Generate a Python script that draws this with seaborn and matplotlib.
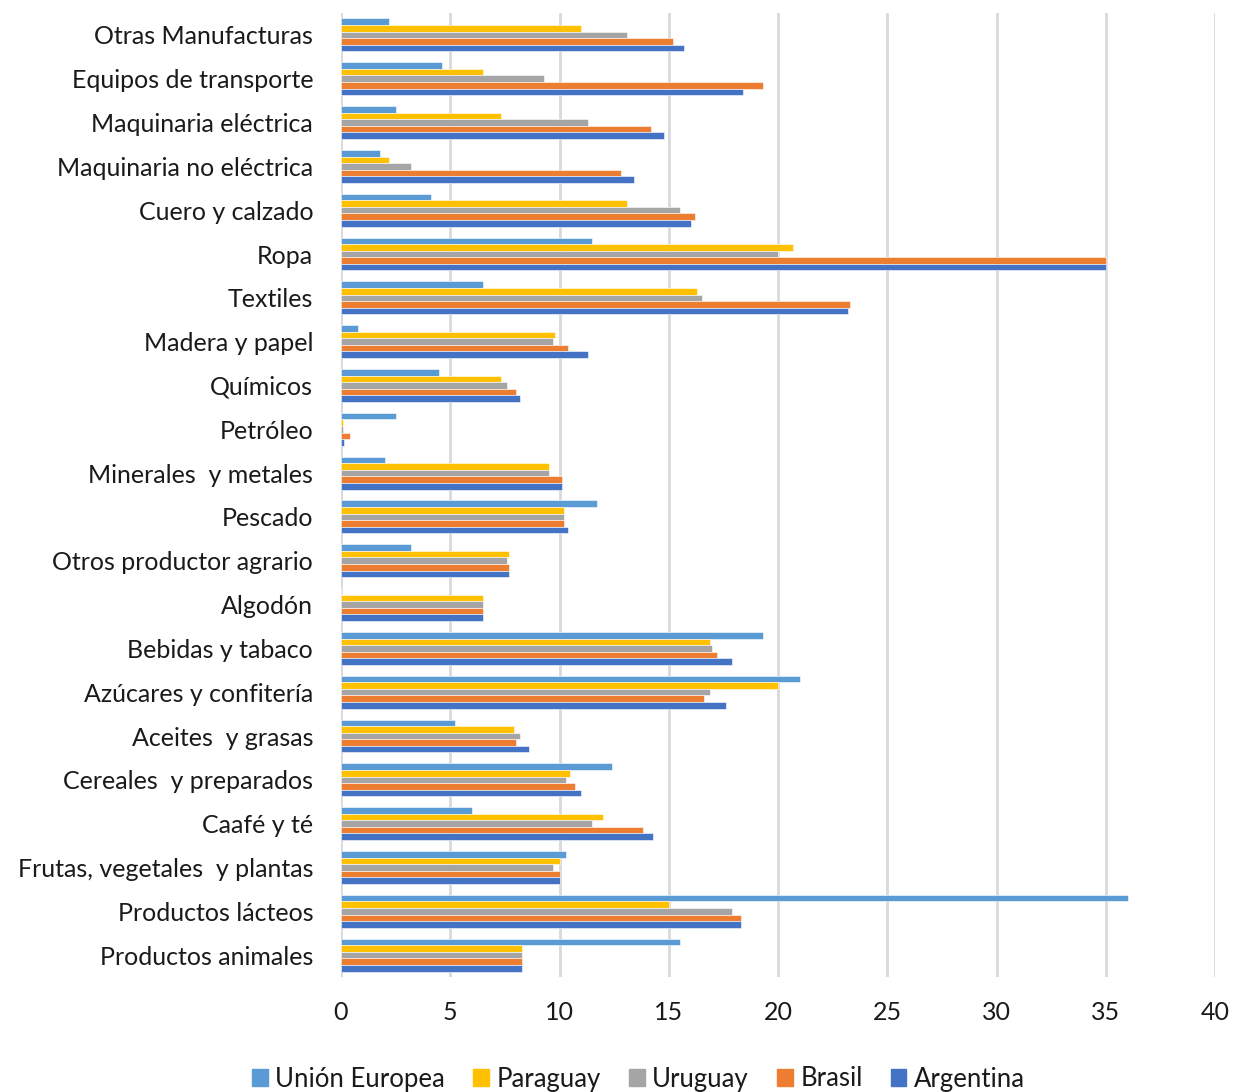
import matplotlib
matplotlib.use("Agg")
import matplotlib.pyplot as plt
import seaborn as sns
import pandas as pd

categories = [
    "Otras Manufacturas", "Equipos de transporte", "Maquinaria eléctrica",
    "Maquinaria no eléctrica", "Cuero y calzado", "Ropa", "Textiles",
    "Madera y papel", "Químicos", "Petróleo", "Minerales  y metales",
    "Pescado", "Otros productor agrario", "Algodón", "Bebidas y tabaco",
    "Azúcares y confitería", "Aceites  y grasas", "Cereales  y preparados",
    "Caafé y té", "Frutas, vegetales  y plantas", "Productos lácteos",
    "Productos animales",
]

union_europea = [2.2, 4.6, 2.5, 1.8, 4.1, 11.5, 6.5, 0.8, 4.5, 2.5, 2.0, 11.7,
                 3.2, 0.0, 19.3, 21.0, 5.2, 12.4, 6.0, 10.3, 36.0, 15.5]
paraguay = [11.0, 6.5, 7.3, 2.2, 13.1, 20.7, 16.3, 9.8, 7.3, 0.1, 9.5, 10.2,
            7.7, 6.5, 16.9, 20.0, 7.9, 10.5, 12.0, 10.0, 15.0, 8.3]
uruguay = [13.1, 9.3, 11.3, 3.2, 15.5, 20.0, 16.5, 9.7, 7.6, 0.1, 9.5, 10.2,
           7.6, 6.5, 17.0, 16.9, 8.2, 10.3, 11.5, 9.7, 17.9, 8.3]
brasil = [15.2, 19.3, 14.2, 12.8, 16.2, 35.0, 23.3, 10.4, 8.0, 0.4, 10.1, 10.2,
          7.7, 6.5, 17.2, 16.6, 8.0, 10.7, 13.8, 10.0, 18.3, 8.3]
argentina = [15.7, 18.4, 14.8, 13.4, 16.0, 35.0, 23.2, 11.3, 8.2, 0.15, 10.1, 10.4,
             7.7, 6.5, 17.9, 17.6, 8.6, 11.0, 14.3, 10.0, 18.3, 8.3]

series_names = ["Unión Europea", "Paraguay", "Uruguay", "Brasil", "Argentina"]
series_values = [union_europea, paraguay, uruguay, brasil, argentina]
palette = ["#5B9BD5", "#FFC000", "#A5A5A5", "#ED7D31", "#4472C4"]
x_ticks = [0, 5, 10, 15, 20, 25, 30, 35, 40]

rows = []
for name, vals in zip(series_names, series_values):
    for cat, v in zip(categories, vals):
        rows.append({"categoria": cat, "serie": name, "valor": v})
df = pd.DataFrame(rows)

sns.set_style("white")
plt.rcParams["font.family"] = ["Lato", "DejaVu Sans"]

fig = plt.figure(figsize=(12.33, 10.92), dpi=100)
ax = fig.add_axes([341 / 1233, 1 - 977 / 1092, (1215 - 341) / 1233, (977 - 13) / 1092])

sns.barplot(data=df, y="categoria", x="valor", hue="serie",
            order=categories, hue_order=series_names, palette=palette,
            orient="h", width=0.75, gap=0.0, saturation=1.0,
            edgecolor="white", linewidth=0.4, legend=False, ax=ax)

ax.set_xlim(0, 40)
ax.set_xticks(x_ticks)
ax.set_xticklabels([str(t) for t in x_ticks])
ax.grid(axis="x", color="#D9D9D9", linewidth=2.0)
ax.grid(axis="y", visible=False)
ax.set_axisbelow(True)
for s in ax.spines.values():
    s.set_visible(False)
ax.set_xlabel("")
ax.set_ylabel("")
ax.tick_params(axis="y", length=0, pad=20, labelsize=18, labelcolor="#1a1a1a")
ax.tick_params(axis="x", length=0, pad=17, labelsize=18, labelcolor="#1a1a1a")

handles = [plt.Rectangle((0, 0), 1, 1, color=c) for c in palette]
fig.legend(handles, series_names, loc="center", bbox_to_anchor=(0.518, 13 / 1092),
           ncol=5, frameon=False, fontsize=18.5, handlelength=0.6, handleheight=0.6,
           handletextpad=0.3, columnspacing=1.1, labelcolor="#1a1a1a")

fig.savefig("out.png", dpi=100)
